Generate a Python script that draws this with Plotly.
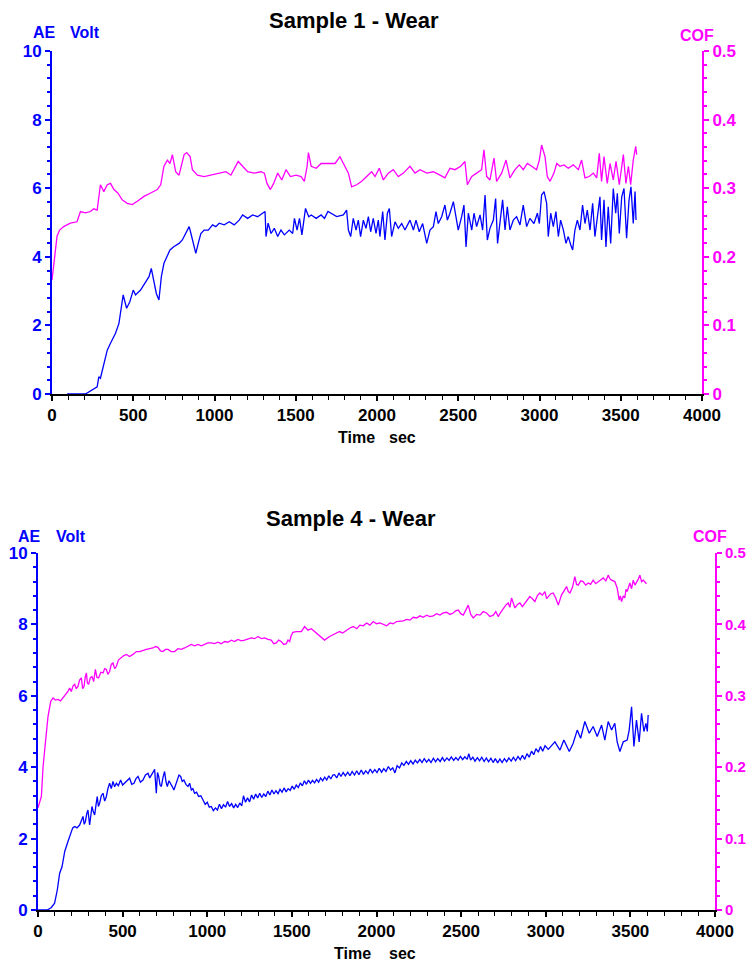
import plotly.graph_objects as go

# ---------------- Sample 1 ----------------
s1_ae_t = [93, 206, 278, 288, 298, 319, 340, 360, 391, 412, 426, 438, 459, 479, 500, 514, 545, 576, 597, 611,
           628, 642, 658, 673, 689, 706, 726, 751, 782, 802, 823, 844, 855, 870, 885, 900, 916, 936, 962, 988,
           1008, 1029, 1060, 1091, 1121, 1152, 1173, 1204, 1235, 1265, 1296, 1311, 1317, 1330, 1348, 1368, 1389,
           1409, 1430, 1460, 1481, 1492, 1508, 1523, 1538, 1560, 1580, 1595, 1626, 1656, 1677, 1698,
           1752, 1793, 1813, 1824, 1838, 1854, 1871, 1885, 1899, 1916, 1932, 1947, 1961, 1977, 1994, 2008, 2018,
           2035, 2049, 2064, 2076, 2090, 2111, 2131, 2152, 2172, 2203, 2224, 2240, 2260, 2281, 2306, 2326, 2347,
           2363, 2377, 2398, 2418, 2433, 2449, 2470, 2486, 2500, 2521, 2535, 2548, 2562, 2583, 2597, 2613, 2634,
           2650, 2665, 2679, 2695, 2716, 2730, 2742, 2757, 2773, 2788, 2802, 2818, 2839, 2859, 2880, 2900, 2921,
           2941, 2966, 2987, 2999, 3013, 3028, 3044, 3054, 3069, 3085, 3101, 3116, 3130, 3147, 3163, 3177, 3192,
           3204, 3218, 3233, 3249, 3265, 3280, 3294, 3311, 3327, 3341, 3358, 3372, 3382, 3397, 3409, 3423, 3438,
           3454, 3469, 3479, 3491, 3506, 3520, 3536, 3551, 3563, 3577, 3588, 3594]
s1_ae_v = [0, 0, 0.21, 0.5, 0.46, 0.89, 1.28, 1.48, 1.77, 2.06, 2.55, 2.89, 2.5, 2.69, 3.03, 2.89, 3.03, 3.27, 3.42, 3.66,
           3.23, 2.93, 2.74, 3.42, 3.81, 4.0, 4.2, 4.3, 4.39, 4.49, 4.68, 4.88, 4.68, 4.39, 4.1, 4.39, 4.68, 4.78, 4.78, 4.93,
           4.88, 4.98, 4.93, 5.02, 4.93, 5.07, 5.22, 5.12, 5.22, 5.17, 5.27, 5.32, 4.59, 4.98, 4.68, 4.83, 4.59,
           4.78, 4.64, 4.78, 4.68, 5.12, 4.78, 5.12, 4.64, 5.41, 5.17, 5.22, 5.12, 5.22, 5.12, 5.32,
           5.17, 5.22, 5.36, 4.78, 4.59, 5.12, 4.78, 5.07, 4.59, 5.07, 4.83, 5.17, 4.73, 5.12, 4.68, 5.07, 4.59,
           5.32, 4.49, 5.27, 5.41, 4.59, 5.02, 4.83, 4.97, 4.78, 5.07, 4.78, 5.07, 4.73, 4.97, 4.39, 4.78, 4.88,
           5.32, 4.97, 5.17, 5.51, 5.07, 5.27, 5.61, 5.17, 4.78, 5.17, 5.51, 4.29, 5.27, 4.78, 5.27, 4.88, 5.22,
           4.78, 5.8, 4.49, 4.83, 5.07, 5.7, 4.39, 4.97, 5.66, 4.78, 5.46, 4.78, 5.07, 5.17, 4.93, 5.51, 4.88,
           5.12, 4.97, 5.27, 4.97, 5.8, 5.9, 5.56, 4.59, 5.27, 4.88, 5.32, 4.59, 5.07, 4.78, 4.39, 4.59, 4.35,
           4.2, 4.78, 5.07, 4.78, 5.51, 4.97, 5.36, 4.78, 5.56, 4.59, 5.27, 5.75, 4.49, 5.66, 4.29, 5.46, 4.39,
           5.99, 5.27, 5.85, 4.68, 5.75, 5.99, 4.54, 5.66, 6.04, 4.97, 5.9, 5.07]

s1_cof_t = [0, 10, 21, 31, 47, 72, 113, 154, 175, 206, 237, 257, 278, 298, 319, 340, 360, 381, 405, 432, 463, 494,
            525, 566, 607, 648, 669, 689, 710, 726, 741, 761, 782, 796, 813, 829, 850, 864, 895, 936, 977, 1019,
            1070, 1101, 1126, 1146, 1173, 1204, 1245, 1286, 1307, 1323, 1344, 1364, 1389, 1414, 1440, 1467, 1502,
            1533, 1553, 1570, 1578, 1595, 1626, 1656, 1698,
            1742, 1772, 1793, 1824, 1844, 1875, 1906, 1936, 1967, 1988, 2014, 2039, 2070, 2100, 2131, 2162, 2203,
            2234, 2265, 2306, 2347, 2388, 2418, 2449, 2480, 2515, 2541, 2556, 2583, 2613, 2644, 2658, 2675, 2695,
            2720, 2736, 2767, 2794, 2818, 2849, 2876, 2900, 2925, 2952, 2982, 2999, 3013, 3034, 3048, 3065, 3089,
            3106, 3126, 3151, 3177, 3208, 3239, 3259, 3280, 3306, 3331, 3352, 3368, 3382, 3397, 3417, 3434, 3454,
            3471, 3491, 3516, 3532, 3547, 3561, 3577, 3592, 3598]
s1_cof_v = [0.166, 0.190, 0.215, 0.230, 0.239, 0.244, 0.249, 0.251, 0.266, 0.264, 0.266, 0.270, 0.268, 0.305, 0.295,
            0.305, 0.307, 0.298, 0.293, 0.283, 0.278, 0.276, 0.281, 0.288, 0.293, 0.298, 0.305, 0.332, 0.341, 0.336,
            0.349, 0.324, 0.319, 0.332, 0.349, 0.352, 0.346, 0.327, 0.319, 0.317, 0.319, 0.322, 0.324, 0.319, 0.329,
            0.339, 0.332, 0.324, 0.322, 0.324, 0.322, 0.307, 0.298, 0.307, 0.322, 0.312, 0.327, 0.317, 0.319, 0.317,
            0.310, 0.332, 0.352, 0.332, 0.329, 0.336, 0.336,
            0.336, 0.346, 0.336, 0.322, 0.302, 0.305, 0.310, 0.317, 0.324, 0.317, 0.329, 0.312, 0.322, 0.327, 0.317,
            0.322, 0.332, 0.322, 0.327, 0.322, 0.324, 0.319, 0.315, 0.329, 0.327, 0.332, 0.339, 0.305, 0.317, 0.322,
            0.327, 0.356, 0.317, 0.312, 0.344, 0.310, 0.322, 0.341, 0.315, 0.327, 0.334, 0.327, 0.336, 0.332, 0.327,
            0.341, 0.363, 0.346, 0.317, 0.310, 0.322, 0.336, 0.332, 0.334, 0.329, 0.334, 0.327, 0.341, 0.315, 0.317,
            0.322, 0.315, 0.351, 0.310, 0.346, 0.307, 0.336, 0.312, 0.339, 0.305, 0.349, 0.307, 0.332, 0.305, 0.341,
            0.361, 0.349]

# ---------------- Sample 4 ----------------
s4_ae_t = [0, 55, 79, 98, 114, 128, 142, 158, 177, 193, 205, 217, 230, 246, 256, 266, 273, 280, 288, 295, 305, 312,
           319, 327, 335, 343, 350, 357, 364, 374, 384, 394, 404, 413,
           423, 433, 443, 453, 463, 475, 488, 500, 512, 526, 541, 554, 567, 579, 591, 605, 620, 635, 650, 660, 669,
           680, 689, 699, 706, 713, 721, 729, 738, 748, 756, 764, 774, 784, 794, 803, 813, 823, 833, 843, 852, 862,
           874, 886, 896, 906, 915, 925, 937, 949, 962,
           975, 988, 1000, 1012, 1024, 1036, 1048, 1060, 1072, 1084, 1096, 1108, 1120, 1132, 1144, 1156, 1168,
           1180, 1192, 1204, 1214, 1226, 1238, 1250, 1262, 1274, 1286, 1298, 1310, 1322, 1334, 1346, 1358, 1370,
           1382, 1394, 1406, 1418, 1430, 1442, 1454, 1466, 1478, 1490, 1502, 1514, 1526, 1538, 1550, 1562, 1574,
           1586, 1598, 1610, 1622, 1634, 1646, 1658, 1670, 1682, 1694, 1706, 1718, 1730, 1742,
           1752, 1765, 1778, 1790, 1803, 1816, 1830, 1843, 1856, 1870, 1883, 1896, 1910, 1923, 1936, 1950, 1963,
           1976, 1990, 2003, 2016, 2030, 2043, 2056, 2070, 2083, 2096, 2109, 2122, 2136, 2149, 2162, 2176, 2189,
           2202, 2216, 2229, 2242, 2256, 2269, 2282, 2296, 2309, 2322, 2336, 2349, 2362, 2376, 2389, 2402, 2416,
           2429, 2442, 2456, 2469, 2482, 2496, 2509, 2522, 2536, 2545, 2556, 2569, 2582, 2596, 2609, 2622, 2636,
           2649, 2662, 2676, 2689, 2702, 2716, 2729, 2742, 2756, 2769, 2782, 2796, 2809, 2822, 2836, 2849, 2862,
           2876, 2889, 2902, 2916, 2929, 2942, 2956, 2969, 2982, 2996, 3015,
           3054, 3084, 3107, 3139, 3162, 3186, 3206, 3231, 3257, 3280, 3304, 3330, 3349, 3369, 3389, 3408, 3422,
           3438, 3458, 3481, 3493, 3507, 3521, 3536, 3552, 3566, 3580, 3592, 3600, 3605]
s4_ae_v = [0, 0, 0.07, 0.19, 0.56, 1.03, 1.21, 1.64, 1.92, 2.15, 2.3, 2.34, 2.3, 2.38, 2.5, 2.62, 2.4, 2.48, 2.7, 2.8,
           2.38, 2.7, 2.9, 2.75, 2.66, 2.95, 3.18, 2.9, 2.99, 3.2, 3.27, 3.05, 3.18, 3.4,
           3.55, 3.40, 3.6, 3.45, 3.55, 3.48, 3.64, 3.50, 3.55, 3.62, 3.69, 3.52, 3.55, 3.68, 3.74, 3.58, 3.64, 3.78,
           3.83, 3.70, 3.79, 3.86, 3.94, 3.27, 3.85, 3.74, 3.5, 3.46, 3.7, 3.88, 3.6, 3.46, 3.62, 3.55, 3.45, 3.36,
           3.5, 3.64, 3.78, 3.74, 3.6, 3.64, 3.52, 3.46, 3.55, 3.36, 3.4, 3.27, 3.3, 3.18, 3.2,
           3.08, 2.96, 3.02, 2.88, 2.90, 2.78, 2.86, 2.80, 2.96, 2.84, 2.95, 2.88, 3.04, 2.90, 2.98, 2.86, 2.96,
           2.87, 3.00, 2.92, 3.20, 3.02, 3.14, 3.03, 3.22, 3.10, 3.25, 3.14, 3.27, 3.15, 3.25, 3.18, 3.33, 3.22,
           3.36, 3.25, 3.34, 3.26, 3.38, 3.30, 3.42, 3.31, 3.40, 3.35, 3.47, 3.38, 3.50, 3.43, 3.56, 3.48, 3.62,
           3.52, 3.64, 3.55, 3.63, 3.56, 3.66, 3.58, 3.70, 3.62, 3.72, 3.64, 3.76, 3.67, 3.78,
           3.79, 3.70, 3.84, 3.74, 3.85, 3.76, 3.86, 3.76, 3.88, 3.78, 3.90, 3.79, 3.92, 3.80, 3.90, 3.82, 3.95,
           3.84, 3.93, 3.85, 3.97, 3.86, 3.96, 3.88, 4.02, 3.92, 3.98, 3.84, 4.04, 3.98, 4.12, 4.05, 4.16, 4.08,
           4.18, 4.09, 4.20, 4.12, 4.22, 4.13, 4.24, 4.14, 4.22, 4.13, 4.25, 4.15, 4.24, 4.16, 4.27, 4.17, 4.26,
           4.19, 4.29, 4.19, 4.27, 4.20, 4.30, 4.21, 4.29, 4.22, 4.38, 4.20, 4.28, 4.17, 4.27, 4.18, 4.28, 4.16,
           4.26, 4.15, 4.25, 4.13, 4.24, 4.12, 4.23, 4.13, 4.24, 4.15, 4.26, 4.17, 4.28, 4.18, 4.30, 4.21, 4.33,
           4.22, 4.38, 4.28, 4.45, 4.35, 4.52, 4.42, 4.58, 4.45, 4.60, 4.50,
           4.71, 4.48, 4.76, 4.44, 4.67, 5.04, 4.81, 5.28, 4.95, 5.14, 4.86, 5.18, 4.76, 5.28, 5.04, 5.23, 4.71,
           4.44, 4.71, 4.76, 5.04, 5.69, 4.58, 5.32, 4.71, 5.51, 5.0, 5.23, 5.0, 5.46]

s4_cof_t = [0, 20, 30, 43, 59, 75, 89, 103, 118, 133, 148, 157, 167, 177, 187, 197, 207, 217, 226, 236, 246, 256,
            264, 272, 279, 286, 292, 299, 309, 319, 329, 339, 348, 358, 371, 384, 394, 404, 413, 423, 433, 443,
            453, 463, 475, 488, 505, 522, 541, 561, 581, 601, 620, 640, 660, 679, 694, 709, 724, 738, 753, 768,
            787, 807, 827, 847, 866, 886, 906, 925, 945, 965, 985, 1004, 1024, 1044, 1063, 1083, 1103, 1122, 1142,
            1162, 1181, 1201, 1221, 1240, 1260, 1280, 1300, 1320, 1339, 1359, 1378, 1393, 1408, 1422, 1437, 1452,
            1467, 1477, 1487, 1496, 1506, 1526, 1556, 1575, 1595, 1615, 1634, 1664, 1693, 1723, 1752, 1782,
            1800, 1823, 1843, 1863, 1883, 1902, 1922, 1942, 1961, 1981, 2000, 2020, 2040, 2060, 2080, 2099, 2118,
            2138, 2158, 2178, 2198, 2217, 2237, 2257, 2276, 2296, 2315, 2335, 2355, 2375, 2394, 2414, 2434, 2453,
            2468, 2483, 2498, 2513, 2528, 2542, 2557, 2572, 2592, 2611, 2631, 2650, 2670, 2690, 2705, 2719, 2734,
            2749, 2764, 2778, 2788, 2798, 2808, 2818, 2833, 2847, 2862, 2877, 2891, 2906, 2921, 2936, 2950, 2965,
            2980, 2995, 3005, 3015, 3030, 3044, 3059, 3074, 3084, 3093, 3108, 3123, 3133, 3143, 3158, 3172, 3182,
            3192, 3207, 3221, 3236, 3251, 3265, 3280, 3295, 3310, 3325, 3340, 3355, 3369, 3379, 3389, 3408, 3422,
            3434, 3441, 3448, 3458, 3467, 3474, 3481, 3489, 3497, 3507, 3517, 3527, 3536, 3546, 3556, 3566, 3576,
            3585, 3595]
s4_cof_v = [0.143, 0.159, 0.201, 0.234, 0.271, 0.292, 0.297, 0.294, 0.295, 0.293, 0.297, 0.300, 0.302, 0.306, 0.311,
            0.306, 0.314, 0.316, 0.310, 0.313, 0.322, 0.325, 0.310, 0.313, 0.326, 0.332, 0.318, 0.316, 0.325, 0.327,
            0.320, 0.337, 0.326, 0.325, 0.333, 0.332, 0.338, 0.337, 0.330, 0.334, 0.344, 0.346, 0.338, 0.341, 0.350,
            0.353, 0.356, 0.358, 0.355, 0.358, 0.362, 0.362, 0.364, 0.365, 0.366, 0.367, 0.369, 0.368, 0.363, 0.362,
            0.365, 0.365, 0.362, 0.362, 0.366, 0.365, 0.367, 0.369, 0.372, 0.370, 0.372, 0.370, 0.372, 0.374, 0.374,
            0.373, 0.375, 0.373, 0.376, 0.375, 0.378, 0.376, 0.379, 0.377, 0.378, 0.380, 0.381, 0.380, 0.383, 0.380,
            0.381, 0.379, 0.378, 0.373, 0.374, 0.378, 0.376, 0.372, 0.373, 0.378, 0.376, 0.384, 0.389, 0.390, 0.390,
            0.397, 0.392, 0.394, 0.390, 0.383, 0.378, 0.383, 0.387, 0.390,
            0.388, 0.392, 0.395, 0.397, 0.394, 0.399, 0.398, 0.402, 0.399, 0.404, 0.401, 0.402, 0.400, 0.398, 0.402,
            0.401, 0.404, 0.404, 0.405, 0.407, 0.406, 0.410, 0.409, 0.412, 0.410, 0.413, 0.411, 0.412, 0.415, 0.413,
            0.416, 0.417, 0.414, 0.416, 0.419, 0.420, 0.415, 0.413, 0.420, 0.427, 0.414, 0.409, 0.414, 0.413, 0.418,
            0.416, 0.411, 0.413, 0.418, 0.411, 0.417, 0.423, 0.427, 0.430, 0.424, 0.437, 0.428, 0.423, 0.428, 0.430,
            0.425, 0.430, 0.434, 0.439, 0.436, 0.432, 0.440, 0.444, 0.441, 0.446, 0.436, 0.439, 0.443, 0.444, 0.437,
            0.427, 0.436, 0.441, 0.447, 0.453, 0.446, 0.444, 0.452, 0.467, 0.456, 0.455, 0.461, 0.460, 0.455, 0.458,
            0.456, 0.462, 0.457, 0.460, 0.463, 0.465, 0.461, 0.469, 0.464, 0.462, 0.460, 0.451, 0.434, 0.440, 0.432,
            0.440, 0.437, 0.449, 0.446, 0.452, 0.458, 0.450, 0.462, 0.455, 0.458, 0.463, 0.469, 0.460, 0.462, 0.459,
            0.457]

x_ticks = [0, 500, 1000, 1500, 2000, 2500, 3000, 3500, 4000]

BLUE = "#0000FF"
MAG = "#FF00FF"
FONT = "Liberation Sans"
W, H = 746, 962

def px(x):
    return x / W

def py(y):
    return 1 - y / H

fig = go.Figure()
fig.add_trace(go.Scatter(x=s1_cof_t, y=s1_cof_v, mode="lines", line=dict(color=MAG, width=1.3), xaxis="x", yaxis="y2"))
fig.add_trace(go.Scatter(x=s1_ae_t, y=s1_ae_v, mode="lines", line=dict(color=BLUE, width=1.3), xaxis="x", yaxis="y"))
fig.add_trace(go.Scatter(x=s4_cof_t, y=s4_cof_v, mode="lines", line=dict(color=MAG, width=1.3), xaxis="x2", yaxis="y4"))
fig.add_trace(go.Scatter(x=s4_ae_t, y=s4_ae_v, mode="lines", line=dict(color=BLUE, width=1.3), xaxis="x2", yaxis="y3"))

tf_black = dict(family=FONT, size=17, color="black", weight="bold")
tf_blue = dict(family=FONT, size=17, color=BLUE, weight="bold")

def xax(dom, anchor):
    return dict(domain=dom, anchor=anchor, range=[0, 4000], showgrid=False, zeroline=False, automargin=False,
                showline=True, linecolor="black", linewidth=1.5, ticks="outside", ticklen=5, tickwidth=1.5,
                tickcolor="black", tickvals=x_ticks, tickfont=tf_black,
                minor=dict(dtick=100, ticks="outside", ticklen=4, tickcolor="black", tickwidth=1))

def yleft(dom, anchor, inside=False, overlay=None):
    d = dict(domain=dom, anchor=anchor, range=[0, 10], showgrid=False, zeroline=False, automargin=False,
             showline=not inside, linecolor=BLUE, linewidth=2, ticks="inside" if inside else "outside",
             ticklen=5, tickwidth=2, tickcolor=BLUE, dtick=2, tickfont=tf_blue,
             showticklabels=not inside,
             minor=dict(dtick=0.4, ticks="inside" if inside else "outside", ticklen=3, tickcolor=BLUE, tickwidth=1.5))
    if overlay:
        d["overlaying"] = overlay
    return d

def yright(dom, anchor, overlay, inside=False, fsize=17):
    return dict(domain=dom, anchor=anchor, overlaying=overlay, side="right", range=[0, 0.5], showgrid=False,
                zeroline=False, automargin=False, showline=not inside, linecolor=MAG, linewidth=2,
                ticks="inside" if inside else "outside", ticklen=5, tickwidth=2, tickcolor=MAG, dtick=0.1,
                tickfont=dict(family=FONT, size=fsize, color=MAG, weight="bold"), showticklabels=not inside,
                minor=dict(dtick=0.02, ticks="inside" if inside else "outside", ticklen=3, tickcolor=MAG, tickwidth=1.5))

top_x = [px(52), px(702)]
top_y = [py(394), py(51)]
bot_x = [px(38), px(715)]
bot_y = [py(910), py(553)]

fig.update_layout(
    template="none",
    width=W, height=H, margin=dict(l=0, r=0, t=0, b=0, pad=0),
    paper_bgcolor="white", plot_bgcolor="white", showlegend=False,
    xaxis=xax(top_x, "y"),
    yaxis=yleft(top_y, "x"),
    yaxis2=yright(top_y, "x", "y"),
    xaxis2=xax(bot_x, "y3"),
    yaxis3=yleft(bot_y, "x2"),
    yaxis4=yright(bot_y, "x2", "y3", fsize=15),
    yaxis5=yleft(top_y, "x", inside=True, overlay="y"),
    yaxis6=yright(top_y, "x", "y", inside=True),
    yaxis7=yleft(bot_y, "x2", inside=True, overlay="y3"),
    yaxis8=yright(bot_y, "x2", "y3", inside=True),
)

ann = []
def add(text, x, y, color="black", size=16, xanchor="left"):
    ann.append(dict(text=text, x=px(x), y=py(y), xref="paper", yref="paper", showarrow=False,
                    xanchor=xanchor, yanchor="middle",
                    font=dict(family=FONT, size=size, color=color, weight="bold")))

add("Sample 1 - Wear", 354, 20, size=22, xanchor="center")
add("Sample 4 - Wear", 351, 518, size=22, xanchor="center")
add("AE", 31, 33, BLUE)
add("Volt", 68, 33, BLUE)
add("AE", 16, 536, BLUE)
add("Volt", 54, 536, BLUE)
add("COF", 697, 35, MAG, xanchor="center")
add("COF", 710, 536, MAG, xanchor="center")
add("Time", 336, 437)
add("sec", 387, 437)
add("Time", 332, 953)
add("sec", 387, 953)
fig.update_layout(annotations=ann)

fig.write_html("out.html", config={"displayModeBar": False},
               post_script="document.body.style.margin='0';document.body.style.overflow='hidden';")
